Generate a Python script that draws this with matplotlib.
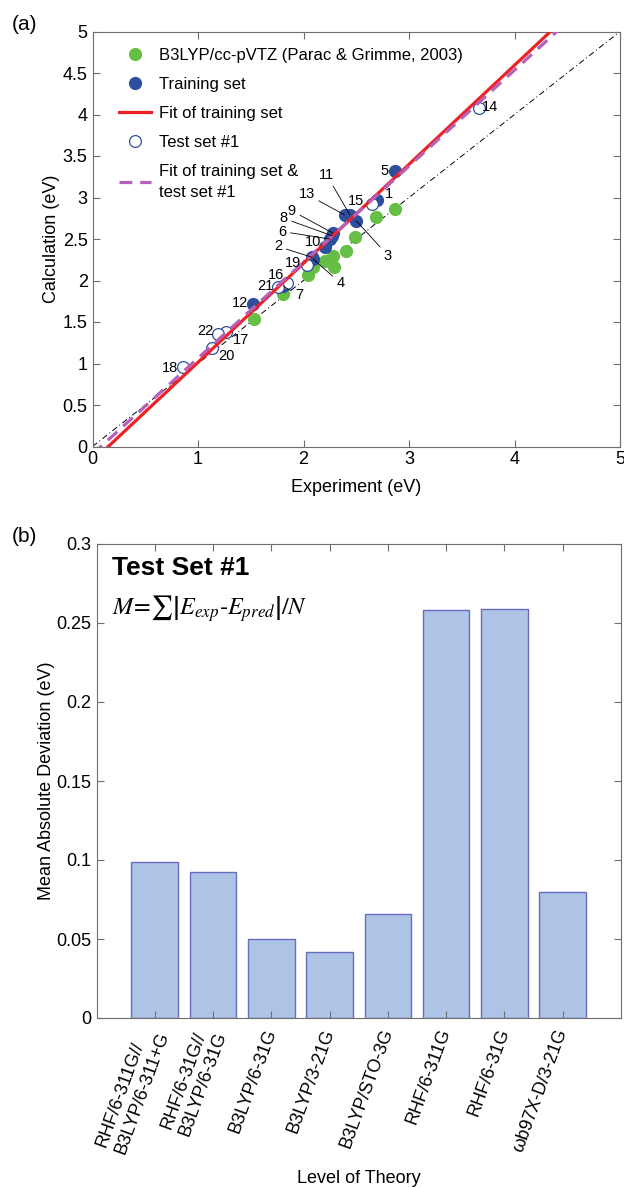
import numpy as np
import matplotlib
matplotlib.use('Agg')
import matplotlib.pyplot as plt
from matplotlib.ticker import FuncFormatter, MultipleLocator
from matplotlib.transforms import ScaledTranslation

plt.rcParams['font.family'] = ['Liberation Sans', 'DejaVu Sans']
plt.rcParams['mathtext.fontset'] = 'stix'

# ---- (a) excitation energies ----
ref_exp = [2.87, 2.69, 2.49, 2.40, 2.28, 2.20, 2.29, 2.09, 2.04, 1.81, 1.53]
ref_calc = [2.86, 2.77, 2.52, 2.36, 2.29, 2.23, 2.16, 2.16, 2.07, 1.84, 1.54]

train_id = [1, 2, 3, 4, 5, 6, 7, 8, 9, 10, 11, 12, 13]
train_exp = [2.70, 2.08, 2.50, 2.09, 2.87, 2.25, 1.81, 2.27, 2.28, 2.20, 2.44, 1.52, 2.39]
train_calc = [2.97, 2.28, 2.72, 2.26, 3.32, 2.50, 1.93, 2.54, 2.57, 2.40, 2.79, 1.72, 2.79]

test_id = [14, 15, 16, 17, 18, 19, 20, 21, 22]
test_exp = [3.66, 2.65, 1.84, 1.27, 0.86, 2.03, 1.13, 1.76, 1.19]
test_calc = [4.08, 2.92, 1.97, 1.38, 0.96, 2.19, 1.19, 1.92, 1.36]

fit_train = [1.193, -0.179]   # slope, intercept
fit_all = [1.157, -0.093]

# ---- (b) mean absolute deviation ----
methods = ['RHF/6-311G//\nB3LYP/6-311+G', 'RHF/6-31G//\nB3LYP/6-31G', 'B3LYP/6-31G',
           'B3LYP/3-21G', 'B3LYP/STO-3G', 'RHF/6-311G', 'RHF/6-31G', 'ωb97X-D/3-21G']
mad = [0.0985, 0.0925, 0.050, 0.042, 0.066, 0.2585, 0.259, 0.080]

# label text placement (data coords) for panel (a)
label_pos = {1: (2.81, 3.04), 2: (1.76, 2.41), 3: (2.80, 2.30), 4: (2.35, 1.97),
             5: (2.77, 3.32), 6: (1.80, 2.59), 7: (1.96, 1.82), 8: (1.81, 2.75),
             9: (1.89, 2.84), 10: (2.09, 2.46), 11: (2.22, 3.27), 12: (1.40, 1.73),
             13: (2.03, 3.04), 14: (3.77, 4.09), 15: (2.50, 2.96), 16: (1.74, 2.07),
             17: (1.41, 1.28), 18: (0.73, 0.95), 19: (1.90, 2.21), 20: (1.27, 1.09),
             21: (1.64, 1.93), 22: (1.07, 1.39)}
leader = [2, 3, 4, 6, 7, 8, 9, 11, 13]

W, H = 624, 1188
fig = plt.figure(figsize=(W / 100, H / 100), dpi=100)

green = '#66bf45'
blue = '#2d4f9e'
red = '#ee2226'
purple = '#b660b8'
spine_c = '#6e6e6e'

ax = fig.add_axes([92.5 / W, 1 - 446.5 / H, 527.5 / W, 415 / H])
xx = np.array([0, 5])
ax.plot(xx, xx, color='k', lw=0.7, ls=(0, (6, 3, 1, 3)), zorder=1)
ax.plot(ref_exp, ref_calc, 'o', color=green, ms=8.5, mec=green, zorder=3,
        label='B3LYP/cc-pVTZ (Parac & Grimme, 2003)')
ax.plot(train_exp, train_calc, 'o', color=blue, ms=8.5, mec=blue, zorder=3, label='Training set')
ax.plot(xx, fit_train[0] * xx + fit_train[1], color=red, lw=2.3, zorder=4, label='Fit of training set')
ax.plot(test_exp, test_calc, 'o', mfc='white', mec=blue, mew=0.9, ms=8.5, zorder=3, label='Test set #1')
ax.plot(xx, fit_all[0] * xx + fit_all[1], color=purple, lw=2.3, ls=(0, (4, 2.5)), zorder=5,
        label='Fit of training set &\ntest set #1')

pts = dict(zip(train_id + test_id, list(zip(train_exp + test_exp, train_calc + test_calc))))
for k, (tx, ty) in label_pos.items():
    if k in leader:
        ax.annotate(str(k), xy=pts[k], xytext=(tx, ty), fontsize=10.5, ha='center', va='center',
                    arrowprops=dict(arrowstyle='-', lw=0.6, color='k', shrinkA=1, shrinkB=0), zorder=6)
    else:
        ax.text(tx, ty, str(k), fontsize=10.5, ha='center', va='center', zorder=6)

ax.set_xlim(0, 5)
ax.set_ylim(0, 5)
ax.xaxis.set_major_locator(MultipleLocator(1))
ax.yaxis.set_major_locator(MultipleLocator(0.5))
fmt = FuncFormatter(lambda v, p: '%g' % v)
ax.xaxis.set_major_formatter(fmt)
ax.yaxis.set_major_formatter(fmt)
ax.tick_params(direction='in', top=True, right=True, labelsize=13, color=spine_c, length=5)
for s in ax.spines.values():
    s.set_color(spine_c)
ax.set_xlabel('Experiment (eV)', fontsize=13, labelpad=8)
ax.set_ylabel('Calculation (eV)', fontsize=13, labelpad=2)
leg = ax.legend(loc='upper left', bbox_to_anchor=(0.019, 1.0), frameon=False, fontsize=12,
                handlelength=1.9, handletextpad=0.5, labelspacing=0.84, borderaxespad=0.6)
for t in leg.get_texts():
    t.set_linespacing(1.45)

# ---- panel (b) ----
bx = fig.add_axes([96.5 / W, 1 - 1018 / H, 524.5 / W, 474 / H])
pos = np.arange(1, len(mad) + 1)
bx.bar(pos, mad, width=0.8, color='#aec4e6', edgecolor='#6a6ac0', lw=1)
bx.set_xlim(0, 9)
bx.set_ylim(0, 0.3)
bx.yaxis.set_major_locator(MultipleLocator(0.05))
bx.yaxis.set_major_formatter(fmt)
bx.set_xticks(pos)
bx.set_xticklabels(methods, rotation=70, ha='right', va='center', rotation_mode='anchor',
                   multialignment='left')
for lab in bx.get_xticklabels():
    lab.set_transform(lab.get_transform() + ScaledTranslation(0.1, 0.0, fig.dpi_scale_trans))
bx.tick_params(direction='in', top=True, right=True, labelsize=13, color=spine_c, length=5)
bx.tick_params(axis='x', pad=8)
for s in bx.spines.values():
    s.set_color(spine_c)
bx.set_xlabel('Level of Theory', fontsize=13, labelpad=10)
bx.set_ylabel('Mean Absolute Deviation (eV)', fontsize=13, labelpad=1)
bx.text(0.03, 0.975, 'Test Set #1', transform=bx.transAxes, fontsize=19, fontweight='bold',
        va='top', ha='left')
bx.text(0.03, 0.895, r'$M\!=\!\sum\left|E_{exp}\right.$-$\left.E_{pred}\right|/N$',
        transform=bx.transAxes, fontsize=17.5, va='top', ha='left')

fig.text(12 / W, 1 - 24 / H, '(a)', fontsize=15, va='center', ha='left')
fig.text(12 / W, 1 - 537 / H, '(b)', fontsize=15, va='center', ha='left')

fig.savefig('out.png', dpi=100)
